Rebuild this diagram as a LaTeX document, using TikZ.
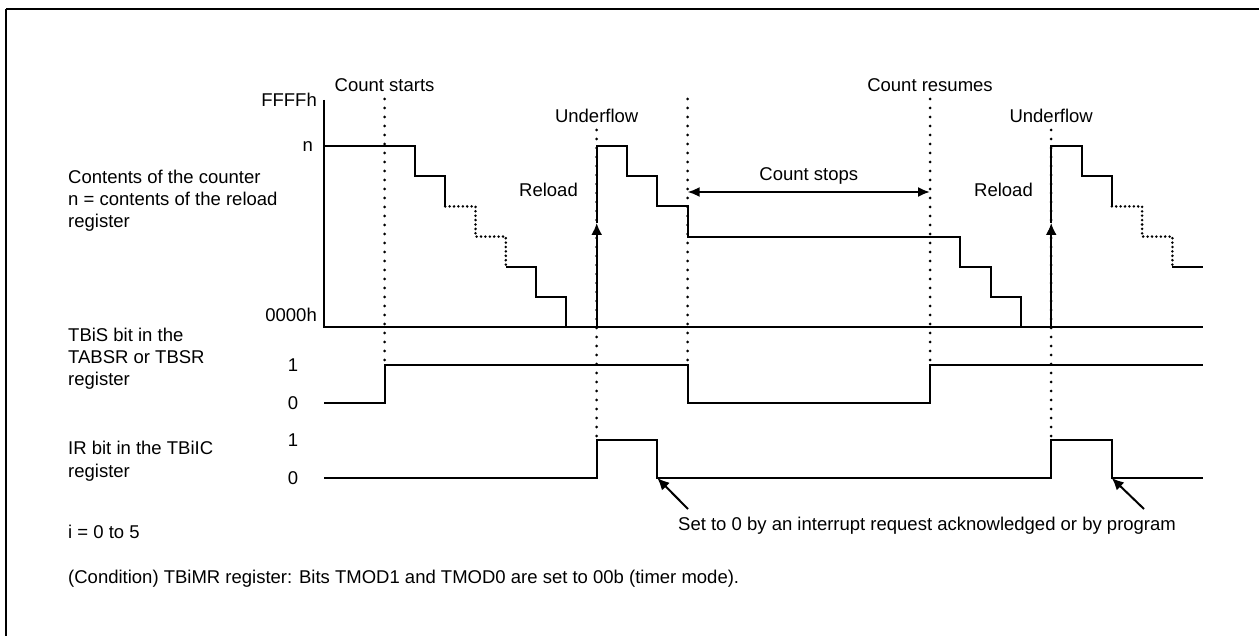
\documentclass[tikz,border=0pt]{standalone}
\usepackage{fontspec}
\setmainfont{Liberation Sans}
\usetikzlibrary{arrows.meta}
\begin{document}
\begin{tikzpicture}[x=1pt,y=-1pt,
  wave/.style={line width=2pt, line join=miter},
  dotwave/.style={line width=2.8pt, dash pattern=on 0pt off 4.4pt, line cap=round},
  guide/.style={line width=3pt, dash pattern=on 0pt off 9pt, line cap=round},
  frame/.style={line width=1.8pt},
  lbl/.style={font=\fontsize{18.5}{22}\selectfont, inner sep=0pt},
  tip/.style={-{Latex[length=12pt,width=11pt]}, line width=2pt},
  dtip/.style={{Latex[length=12pt,width=10pt]}-{Latex[length=12pt,width=10pt]}, line width=2pt}
]
\useasboundingbox (0,0) rectangle (1259,636);
% frame
\draw[frame, line width=2.2pt] (6,9) -- (1259,9);
\draw[frame] (6,9) -- (6,636);

% guide lines
\draw[guide] (384.6,99) -- (384.6,365);
\draw[guide] (596.7,130) -- (596.7,440);
\draw[guide] (687.6,99) -- (687.6,365);
\draw[guide] (930,99) -- (930,365);
\draw[guide] (1051.2,130) -- (1051.2,440);

% axis
\draw[wave] (324,100) -- (324,327) -- (1202.7,327);

% counter waveform
\draw[wave] (324,146) -- (414.9,146) -- (414.9,176.2) -- (445.2,176.2) -- (445.2,206.4);
\draw[dotwave] (445.2,206.4) -- (475.5,206.4) -- (475.5,236.6) -- (505.8,236.6) -- (505.8,266.8);
\draw[wave] (505.8,266.8) -- (536.1,266.8) -- (536.1,297) -- (566.4,297) -- (566.4,327);

\coordinate (r1b) at (596.7,327);
\coordinate (r1m) at (596.7,223);
\coordinate (r1t) at (596.7,146);
\draw[tip] (r1b) -- (r1m);
\draw[wave] (r1m) -- (r1t) -- (627,146) -- (627,176.2) -- (657.3,176.2) -- (657.3,206.4) -- (687.6,206.4) -- (687.6,236.6) -- (960.3,236.6) -- (960.3,266.8) -- (990.6,266.8) -- (990.6,297) -- (1020.9,297) -- (1020.9,327);

\coordinate (r2b) at (1051.2,327);
\coordinate (r2m) at (1051.2,223);
\coordinate (r2t) at (1051.2,146);
\draw[tip] (r2b) -- (r2m);
\draw[wave] (r2m) -- (r2t) -- (1081.5,146) -- (1081.5,176.2) -- (1111.8,176.2) -- (1111.8,206.4);
\draw[dotwave] (1111.8,206.4) -- (1142.1,206.4) -- (1142.1,236.6) -- (1172.4,236.6) -- (1172.4,266.8);
\draw[wave] (1172.4,266.8) -- (1202.7,266.8);

% TBiS
\draw[wave] (324,403) -- (384.6,403) -- (384.6,365) -- (687.6,365) -- (687.6,403) -- (930,403) -- (930,365) -- (1202.7,365);
% IR
\draw[wave] (324,478) -- (596.7,478) -- (596.7,440) -- (657.3,440) -- (657.3,478) -- (1051.2,478) -- (1051.2,440) -- (1111.8,440) -- (1111.8,478) -- (1202.7,478);

% count stops arrow
\coordinate (cs1) at (687.6,192);
\coordinate (cs2) at (930,192);
\draw[dtip] (cs1) -- (cs2);

% set to 0 arrows
\coordinate (a1t) at (688,509);
\coordinate (a1h) at (657.3,478);
\coordinate (a2t) at (1144,509);
\coordinate (a2h) at (1111.8,478);
\draw[tip] (a1t) -- (a1h);
\draw[tip] (a2t) -- (a2h);

% top labels
\node[lbl, anchor=base] (tcs) at (384.6,92) {Count starts};
\node[lbl, anchor=base] (tcr) at (930,92) {Count resumes};
\node[lbl, anchor=base] (tu1) at (596.7,123) {Underflow};
\node[lbl, anchor=base] (tu2) at (1051.2,123) {Underflow};
\node[lbl, anchor=base east] (tr1) at (578,197) {Reload};
\node[lbl, anchor=base east] (tr2) at (1033,197) {Reload};
\node[lbl, anchor=base] (tst) at (808.8,181) {Count stops};

% axis labels
\node[lbl, anchor=base east] (tff) at (317,107) {FFFFh};
\node[lbl, anchor=base east] (tn) at (313,152) {n};
\node[lbl, anchor=base east] (t00) at (317,322) {0000h};
\node[lbl] (s1) at (293,365) {1};
\node[lbl] (s0) at (293,403) {0};
\node[lbl] (i1) at (293,440) {1};
\node[lbl] (i0) at (293,478) {0};

% left labels
\node[lbl, anchor=base west] (l1) at (68,184) {Contents of the counter};
\node[lbl, anchor=base west] (l2) at (68,206) {n = contents of the reload};
\node[lbl, anchor=base west] (l3) at (68,228) {register};
\node[lbl, anchor=base west] (l4) at (68,342) {TBiS bit in the};
\node[lbl, anchor=base west] (l5) at (68,364) {TABSR or TBSR};
\node[lbl, anchor=base west] (l6) at (68,386) {register};
\node[lbl, anchor=base west] (l7) at (68,454) {IR bit in the TBiIC};
\node[lbl, anchor=base west] (l8) at (68,477) {register};
\node[lbl, anchor=base west] (l9) at (68,538) {i = 0 to 5};
\node[lbl, anchor=base west] (l10) at (68,583) {(Condition) TBiMR register: Bits TMOD1 and TMOD0 are set to 00b (timer mode).};
\node[lbl, anchor=base west] (tset) at (678,530) {Set to 0 by an interrupt request acknowledged or by program};
\end{tikzpicture}
\end{document}
